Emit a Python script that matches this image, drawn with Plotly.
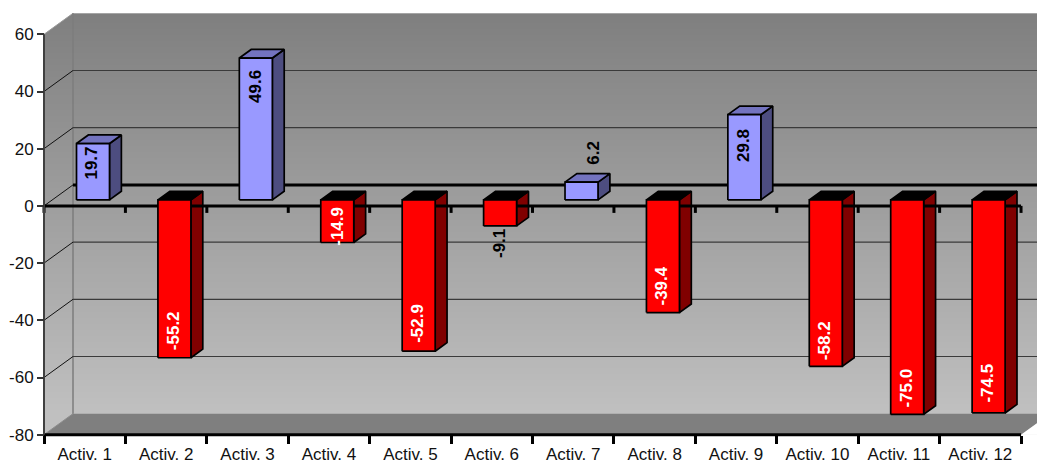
import plotly.graph_objects as go

# Chart content
categories = [f"Activ. {n}" for n in range(1, 13)]
values = [19.7, -55.2, 49.6, -14.9, -52.9, -9.1, 6.2, -39.4, 29.8, -58.2, -75.0, -74.5]
y_ticks = [60, 40, 20, 0, -20, -40, -60, -80]

# Label placement: pixels from the bar's outer end towards its base, and sideways
label_inset = [20, 27, 28, 16, 28, -18, -29, 27, 31, 26, 26, 30]
label_side = [-1, -1, -1, 0, -1, 0, 12, -1, -1, -1, -1, -1]

# Page and scale geometry, in pixels
WIDTH, HEIGHT = 1037, 464
LEFT = 44.0
SLOT = 81.42
ZERO = 205.9
UNIT = 2.86
WALL_DX, WALL_DY = 29.0, 21.0
BAR_W = 33.0
BAR_NEAR = 6.0 / 21.0
BAR_DEPTH = 8.6 / 21.0


def cat(px):
    return px / SLOT


def val(px):
    return px / UNIT


YMIN, YMAX = -80, 60
wall_dx = cat(WALL_DX)
wall_dy = val(WALL_DY)
x_range = [cat(-LEFT), cat(WIDTH - LEFT)]
y_range = [val(ZERO - HEIGHT), val(ZERO)]
x_end = 12 + wall_dx + 0.3
wall_top = YMAX + wall_dy

fig = go.Figure()

# Graded back and side walls
rows = 210
edges = [YMIN + (wall_top - YMIN) * i / rows for i in range(rows + 1)]
shade = []
for i in range(rows):
    mid = (edges[i] + edges[i + 1]) / 2
    shade.append([min(1.0, max(0.0, (wall_top - mid) / (YMAX - YMIN)))])
fig.add_trace(go.Heatmap(
    x=[0, x_end], y=edges, z=shade, zmin=0, zmax=1, showscale=False, hoverinfo="skip",
    colorscale=[[0, "#7f7f7f"], [1, "#c0c0c0"]],
))


def polygon(points, fill, line="rgba(0,0,0,0)", width=0):
    xs = [p[0] for p in points] + [points[0][0]]
    ys = [p[1] for p in points] + [points[0][1]]
    fig.add_trace(go.Scatter(
        x=xs, y=ys, mode="lines", fill="toself", fillcolor=fill,
        line=dict(color=line, width=width), hoverinfo="skip", showlegend=False,
    ))


def polyline(xs, ys, color, width):
    fig.add_trace(go.Scatter(
        x=xs, y=ys, mode="lines", line=dict(color=color, width=width),
        hoverinfo="skip", showlegend=False,
    ))


# Corners that lie outside the box, then the floor
polygon([(0, YMAX), (0, wall_top + 1), (wall_dx, wall_top + 1), (wall_dx, wall_top)], "white")
polygon([(0, YMIN), (wall_dx, YMIN + wall_dy), (x_end, YMIN + wall_dy),
         (12 + wall_dx, YMIN + wall_dy), (12, YMIN)], "#7f7f7f")
polygon([(12, YMIN), (12 + wall_dx, YMIN + wall_dy), (12 + wall_dx, YMIN)], "white")
polyline([0, wall_dx], [YMIN, YMIN + wall_dy], "#8c8c8c", 1)
polyline([0, wall_dx], [YMAX, wall_top], "#9a9a9a", 1)
polyline([wall_dx, wall_dx], [YMIN + wall_dy, wall_top], "#7c7c7c", 1.5)

# Gridlines run along the back wall and down the side wall
for tick in y_ticks:
    if tick in (YMIN, YMAX):
        continue
    polyline([0, wall_dx], [tick, tick + wall_dy], "#111111", 1)
    polyline([wall_dx, x_end], [tick + wall_dy] * 2,
             "#000000" if tick == 0 else "#3a3a3a", 3 if tick == 0 else 1.2)


def prism_faces(indices):
    front, side, top = [], [], []
    for i in indices:
        v = values[i]
        x0 = i + 0.5 - cat(BAR_W) / 2 + wall_dx * BAR_NEAR
        x1 = x0 + cat(BAR_W)
        base = wall_dy * BAR_NEAR
        tip = v + base
        hi, lo = max(base, tip), min(base, tip)
        ox, oy = wall_dx * BAR_DEPTH, wall_dy * BAR_DEPTH
        front.append([(x0, lo), (x1, lo), (x1, hi), (x0, hi)])
        side.append([(x1, lo), (x1 + ox, lo + oy), (x1 + ox, hi + oy), (x1, hi)])
        top.append([(x0, hi), (x1, hi), (x1 + ox, hi + oy), (x0 + ox, hi + oy)])
    return front, side, top


def face_trace(polys, fill):
    xs, ys = [], []
    for poly in polys:
        xs += [p[0] for p in poly] + [poly[0][0], None]
        ys += [p[1] for p in poly] + [poly[0][1], None]
    fig.add_trace(go.Scatter(
        x=xs, y=ys, mode="lines", fill="toself", fillcolor=fill,
        line=dict(color="black", width=1.7), hoverinfo="skip", showlegend=False,
    ))


positive = [i for i, v in enumerate(values) if v >= 0]
negative = [i for i, v in enumerate(values) if v < 0]
blue_front, blue_side, blue_top = prism_faces(positive)
red_front, red_side, red_top = prism_faces(negative)

face_trace(blue_side, "#4d4d80")
face_trace(blue_top, "#7373bf")
face_trace(red_side, "#800000")
face_trace(red_top, "#000000")

# Front axes: the zero line passes behind the front faces of the bars
polyline([0, 12], [0, 0], "black", 3)
for k in range(13):
    polyline([k, k], [0, -val(7)], "black", 3)
polyline([0, 12], [YMIN, YMIN], "black", 3)
polyline([0, 0], [YMIN, YMAX], "#404040", 2)

face_trace(blue_front, "#9999ff")
face_trace(red_front, "#ff0000")

# Carries the category labels, centred between the tick marks
fig.add_trace(go.Scatter(x=[0.5], y=[0], xaxis="x2", mode="markers",
                         marker=dict(opacity=0), hoverinfo="skip", showlegend=False))

# Value labels, rotated along each bar
for i, v in enumerate(values):
    centre = i + 0.5 + wall_dx * BAR_NEAR
    tip = v + wall_dy * BAR_NEAR
    inset = label_inset[i] if v >= 0 else -label_inset[i]
    dark = v >= 0 or label_inset[i] < 0
    fig.add_annotation(
        x=centre, y=tip, xref="x", yref="y", text=f"{v:.1f}", textangle=-90, showarrow=False,
        xshift=label_side[i], yshift=-inset,
        font=dict(family="Liberation Sans", size=17, color="black" if dark else "white", weight="bold"),
    )

tick_font = dict(family="Liberation Sans", size=17, color="#111111")
fig.update_layout(
    template="none",
    width=WIDTH, height=HEIGHT, autosize=False,
    margin=dict(l=0, r=0, t=0, b=0, pad=0, autoexpand=False),
    paper_bgcolor="white", plot_bgcolor="white", showlegend=False,
    xaxis=dict(
        range=x_range, anchor="free", position=(HEIGHT - (ZERO - YMIN * UNIT)) / HEIGHT,
        tickmode="array", tickvals=list(range(13)), ticktext=[""] * 13, automargin=False,
        ticks="outside", ticklen=8, tickwidth=3, tickcolor="black",
        showgrid=False, zeroline=False, showline=False,
    ),
    xaxis2=dict(
        range=x_range, overlaying="x", anchor="free", side="bottom", automargin=False,
        position=(HEIGHT - (ZERO - YMIN * UNIT)) / HEIGHT,
        tickmode="array", tickvals=[i + 0.5 for i in range(12)], ticktext=categories,
        ticks="outside", ticklen=4, tickcolor="rgba(0,0,0,0)", tickfont=tick_font,
        showgrid=False, zeroline=False, showline=False,
    ),
    yaxis=dict(
        range=y_range, anchor="free", position=LEFT / WIDTH, side="left", automargin=False,
        tickmode="array", tickvals=y_ticks, ticktext=[str(t) for t in y_ticks],
        ticks="outside", ticklen=7, tickwidth=2, tickcolor="#333333", tickfont=tick_font,
        showgrid=False, zeroline=False, showline=False,
    ),
)

fig.write_html("out.html", config={"displayModeBar": False})
